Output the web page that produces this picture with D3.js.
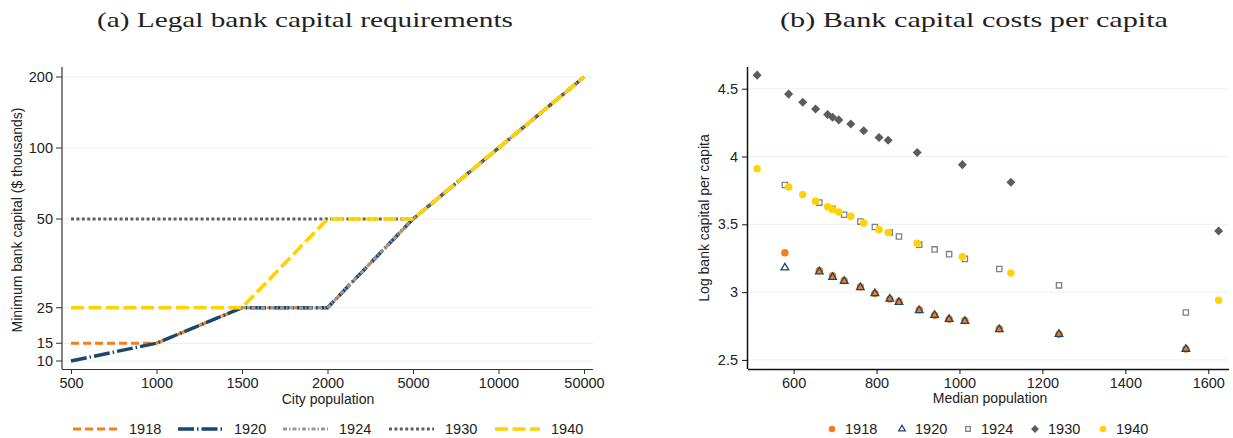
<!DOCTYPE html>
<html><head><meta charset="utf-8">
<script src="https://cdn.jsdelivr.net/npm/d3@7"></script>
<style>body{margin:0;background:#fff}svg{display:block}text{font-family:"Liberation Sans",Arial,sans-serif;fill:#222}</style>
</head><body>
<svg id="c" width="1233" height="438"></svg>
<script>
// ---------- Panel (a) data ----------
const cityPop = ["500","1000","1500","2000","5000","10000","50000"];
const capTicksA = [10,15,25,50,100,200];
const req1918 = [15,15,25,25,50,100,200];
const req1920 = [10,15,25,25,50,100,200];
const req1924 = [null,null,25,25,50,100,200];
const req1930 = [50,50,50,50,50,100,200];
const req1940 = [25,25,25,50,50,100,200];
const yearsA = ["1918","1920","1924","1930","1940"];

// ---------- Panel (b) data ----------
const popA = [512,588,622,653,682,694,709,738,769,806,828,898,1007,1124,1625];
const popB = [579,662,694,722,761,796,832,854,903,940,975,1013,1096,1240,1546];
const cost1918 = [3.29,3.16,3.12,3.085,3.04,2.99,2.95,2.93,2.87,2.83,2.80,2.79,2.73,2.69,2.58];
const cost1920 = [3.18,3.15,3.11,3.08,3.035,2.99,2.95,2.925,2.865,2.83,2.80,2.785,2.725,2.69,2.58];
const cost1924 = [3.79,3.66,3.615,3.57,3.52,3.48,3.44,3.41,3.35,3.315,3.28,3.245,3.17,3.05,2.85];
const cost1930 = [4.60,4.46,4.40,4.35,4.31,4.29,4.27,4.24,4.19,4.14,4.12,4.03,3.94,3.81,3.45];
const cost1940 = [3.91,3.775,3.72,3.67,3.63,3.61,3.59,3.56,3.51,3.46,3.44,3.36,3.26,3.14,2.94];
const xTicksB = [600,800,1000,1200,1400,1600];
const yTicksB = [2.5,3,3.5,4,4.5];

const svg = d3.select("#c");
const grid = "#e8f0f2";
const serif = "'Liberation Serif','DejaVu Serif',serif";

// titles
svg.append("text").attr("x",97).attr("y",27).attr("textLength",416).attr("lengthAdjust","spacingAndGlyphs")
  .style("font-family",serif).style("font-size","21px").text("(a) Legal bank capital requirements");
svg.append("text").attr("x",780).attr("y",27).attr("textLength",388).attr("lengthAdjust","spacingAndGlyphs")
  .style("font-family",serif).style("font-size","21px").text("(b) Bank capital costs per capita");

// ================= Panel (a) =================
const A = {l:62, r:593, t:67, b:369};
const xA = d3.scalePoint().domain(cityPop).range([71,584]);
const yLin = d3.scaleLinear().domain([10,90]).range([361,77]);
const yA = v => yLin(v <= 50 ? v : 50 + 20*Math.log2(v/50));

const gA = svg.append("g");
gA.selectAll("line.g").data(capTicksA).join("line")
  .attr("x1",A.l).attr("x2",A.r).attr("y1",d=>yA(d)).attr("y2",d=>yA(d))
  .attr("stroke",grid).attr("stroke-width",1);

const styles = {
  "1918":{c:"#f47f1e",w:3.2,d:"8,4"},
  "1920":{c:"#1a476f",w:3.4,d:"16,3,1.5,3"},
  "1924":{c:"#9a9a9a",w:3,d:"4,2,1.5,2"},
  "1930":{c:"#5f5f5f",w:3,d:"3,2.4"},
  "1940":{c:"#ffd200",w:3.6,d:"13,4.5"}
};
const seriesA = {"1918":req1918,"1920":req1920,"1924":req1924,"1930":req1930,"1940":req1940};
const lineA = d3.line().defined(d=>d!=null).x((d,i)=>xA(cityPop[i])).y(d=>yA(d));
yearsA.forEach(y=>{
  gA.append("path").datum(seriesA[y]).attr("d",lineA).attr("fill","none")
    .attr("stroke",styles[y].c).attr("stroke-width",styles[y].w).attr("stroke-dasharray",styles[y].d);
});

// axes
const yAxisA = gA.append("g");
yAxisA.append("line").attr("x1",A.l).attr("x2",A.l).attr("y1",A.t).attr("y2",A.b).attr("stroke","#333").attr("stroke-width",1.2);
capTicksA.forEach(t=>{
  yAxisA.append("line").attr("x1",A.l-6).attr("x2",A.l).attr("y1",yA(t)).attr("y2",yA(t)).attr("stroke","#333");
  yAxisA.append("text").attr("x",A.l-9).attr("y",yA(t)).attr("dy","0.35em").attr("text-anchor","end").style("font-size","14.5px").text(t);
});
const xAxisA = gA.append("g").attr("transform",`translate(0,${A.b})`)
  .call(d3.axisBottom(xA).tickSize(5).tickPadding(4));
xAxisA.select(".domain").attr("d",`M${A.l},0.5H${A.r}`).attr("stroke","#333").attr("stroke-width",1.2);
xAxisA.selectAll("text").style("font-size","14.5px").style("font-family","'Liberation Sans',Arial,sans-serif").attr("fill","#222");
xAxisA.selectAll(".tick line").attr("stroke","#333");

svg.append("text").attr("transform","translate(22,220) rotate(-90)").attr("text-anchor","middle")
  .style("font-size","14px").text("Minimum bank capital ($ thousands)");
svg.append("text").attr("x",328).attr("y",404).attr("text-anchor","middle").style("font-size","14px").text("City population");

// legend a
const legA = [73,178,283,389,495];
yearsA.forEach((y,i)=>{
  const x0 = legA[i];
  svg.append("line").attr("x1",x0).attr("x2",x0+45).attr("y1",429).attr("y2",429)
    .attr("stroke",styles[y].c).attr("stroke-width",styles[y].w).attr("stroke-dasharray",styles[y].d);
  svg.append("text").attr("x",x0+56).attr("y",429).attr("dy","0.35em").style("font-size","14.5px").text(y);
});

// ================= Panel (b) =================
const B = {l:748, r:1229, t:67, b:369};
const xB = d3.scaleLinear().domain([490,1650]).range([B.l,B.r]);
const yB = d3.scaleLinear().domain([2.433,4.66]).range([B.b,B.t]);
const gB = svg.append("g");
gB.selectAll("line.g").data(yTicksB).join("line")
  .attr("x1",B.l).attr("x2",B.r).attr("y1",d=>yB(d)).attr("y2",d=>yB(d))
  .attr("stroke",grid).attr("stroke-width",1);

const yAxisB = gB.append("g").attr("transform",`translate(${B.l},0)`)
  .call(d3.axisLeft(yB).tickValues(yTicksB).tickFormat(d3.format("")).tickSize(6).tickPadding(4));
yAxisB.select(".domain").attr("d",`M-0.5,${B.t}V${B.b}`).attr("stroke","#111").attr("stroke-width",1.5);
const xAxisB = gB.append("g").attr("transform",`translate(0,${B.b})`)
  .call(d3.axisBottom(xB).tickValues(xTicksB).tickFormat(d3.format("d")).tickSize(5).tickPadding(4));
xAxisB.select(".domain").attr("d",`M${B.l},0.5H${B.r}`).attr("stroke","#111").attr("stroke-width",1.5);
[yAxisB,xAxisB].forEach(a=>{
  a.selectAll("text").style("font-size","14.5px").style("font-family","'Liberation Sans',Arial,sans-serif").attr("fill","#222");
  a.selectAll(".tick line").attr("stroke","#111");
});

svg.append("text").attr("transform","translate(709,218) rotate(-90)").attr("text-anchor","middle")
  .style("font-size","14px").text("Log bank capital per capita");
svg.append("text").attr("x",990).attr("y",403).attr("text-anchor","middle").style("font-size","14px").text("Median population");

const sym = {
  "1918":{t:d3.symbolCircle,s:44,fill:"#f47f1e",stroke:"none",sw:0},
  "1920":{t:d3.symbolTriangle,s:25,fill:"none",stroke:"#1a476f",sw:1.3},
  "1924":{t:d3.symbolSquare,s:28,fill:"none",stroke:"#808080",sw:1.3},
  "1930":{t:d3.symbolDiamond2,s:52,fill:"#5c5c5c",stroke:"none",sw:0},
  "1940":{t:d3.symbolCircle,s:44,fill:"#ffd200",stroke:"none",sw:0}
};
const seriesB = {
  "1918":[popB,cost1918],"1920":[popB,cost1920],"1924":[popB,cost1924],
  "1930":[popA,cost1930],"1940":[popA,cost1940]
};
yearsA.forEach(y=>{
  const [xs,vs] = seriesB[y];
  const st = sym[y];
  gB.selectAll(null).data(vs).join("path")
    .attr("transform",(d,i)=>`translate(${xB(xs[i])},${yB(d)})`)
    .attr("d",d3.symbol(st.t,st.s)).attr("fill",st.fill).attr("stroke",st.stroke).attr("stroke-width",st.sw);
});

// legend b
const legB = [832,902,968,1035,1103];
yearsA.forEach((y,i)=>{
  const st = sym[y];
  svg.append("path").attr("transform",`translate(${legB[i]},429)`).attr("d",d3.symbol(st.t,st.s*0.75))
    .attr("fill",st.fill).attr("stroke",st.stroke).attr("stroke-width",st.sw);
  svg.append("text").attr("x",legB[i]+13).attr("y",429).attr("dy","0.35em").style("font-size","14.5px").text(y);
});
</script>
</body></html>
